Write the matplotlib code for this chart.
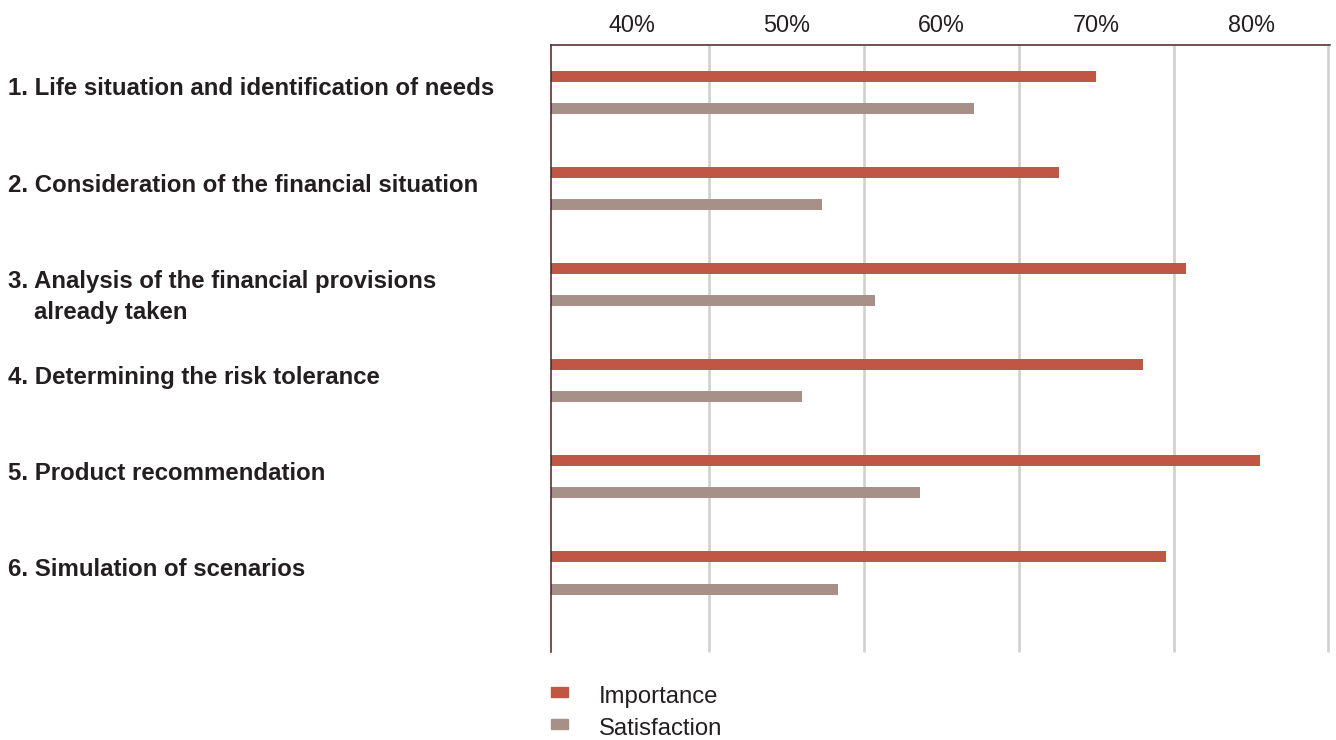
import matplotlib
matplotlib.use("Agg")
import matplotlib.pyplot as plt
import matplotlib.transforms as mtransforms
from matplotlib.patches import Rectangle
import numpy as np

plt.rcParams['font.family'] = ['Liberation Sans', 'DejaVu Sans']

categories = [
    "1. Life situation and identification of needs",
    "2. Consideration of the financial situation",
    "3. Analysis of the financial provisions\nalready taken",
    "4. Determining the risk tolerance",
    "5. Product recommendation",
    "6. Simulation of scenarios",
]
importance = [70.0, 67.6, 75.8, 73.0, 80.6, 74.5]
satisfaction = [62.1, 52.3, 55.7, 51.0, 58.6, 53.3]
series_names = ["Importance", "Satisfaction"]
tick_values = [40, 50, 60, 70, 80]
tick_labels = ["40%", "50%", "60%", "70%", "80%"]
grid_values = [45, 55, 65, 75, 85]

C_IMP = "#C05745"
C_SAT = "#A79088"
C_TXT = "#231F20"
C_SPINE = "#4B2026"
C_GRID = "#D0D0D0"

W, H = 1336, 740
fig = plt.figure(figsize=(W / 100, H / 100), dpi=100)
ax = fig.add_axes([551 / W, 1 - 652 / H, (1330 - 551) / W, (652 - 45) / H])

y = np.arange(len(categories))
off = 1 / 6
bh = 0.1145
ax.barh(y - off, importance, height=bh, color=C_IMP, zorder=3)
ax.barh(y + off, satisfaction, height=bh, color=C_SAT, zorder=3)

ax.set_xlim(34.77, 85.1)
ax.set_ylim(5.822, -0.494)
ax.vlines(grid_values, -0.494, 5.822, colors=C_GRID, linewidth=1.9, zorder=1, clip_on=False)

ax.set_xticks(tick_values)
ax.set_xticklabels(tick_labels, fontsize=16.8, color=C_TXT)
ax.tick_params(axis='x', top=True, labeltop=True, bottom=False, labelbottom=False, length=0, pad=6)
ax.set_yticks([])

for s in ['right', 'bottom']:
    ax.spines[s].set_visible(False)
for s in ['left', 'top']:
    ax.spines[s].set_color(C_SPINE)
    ax.spines[s].set_linewidth(1.1)
    ax.spines[s].set_zorder(4)

# Category labels
base = mtransforms.blended_transform_factory(fig.transFigure, ax.transData)
for i, lab in enumerate(categories):
    lines = lab.split("\n")
    for j, ln in enumerate(lines):
        tr = mtransforms.offset_copy(base, fig=fig, x=0, y=-3 - 31 * j, units='dots')
        xpos = 8 / W if j == 0 else 34 / W
        fig.text(xpos, i, ln, transform=tr, fontsize=17.3, fontweight='bold',
                 color=C_TXT, va='baseline', ha='left')

# Legend
leg_colors = [C_IMP, C_SAT]
for k, (name, col) in enumerate(zip(series_names, leg_colors)):
    top_px = 686.7 + 32.3 * k
    fig.add_artist(Rectangle((551 / W, 1 - (top_px + 10) / H), 17 / W, 10 / H,
                             transform=fig.transFigure, color=col))
    fig.text(599 / W, 1 - (703.3 + 32 * k) / H, name, fontsize=17.2, color=C_TXT,
             va='baseline', ha='left')

fig.savefig("out.png", dpi=100)
